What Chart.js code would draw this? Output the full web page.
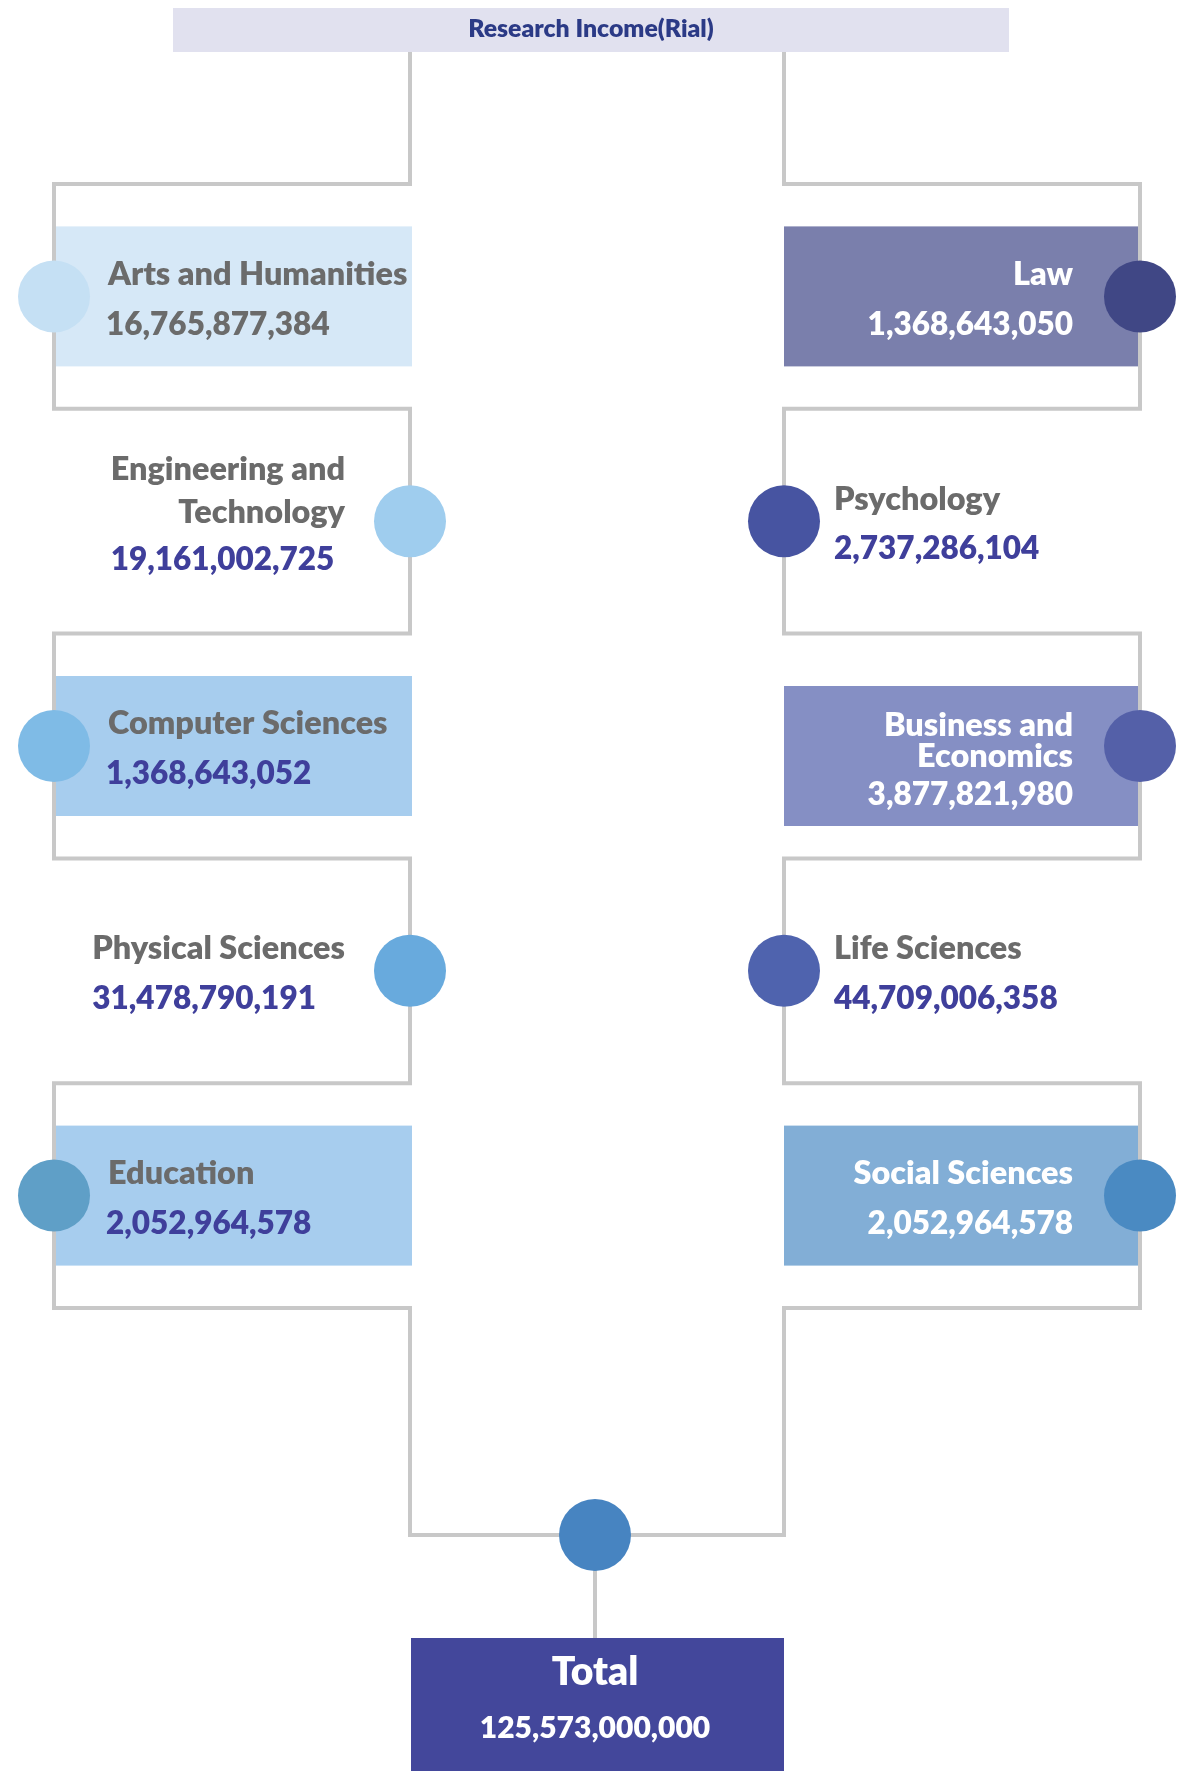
<!DOCTYPE html>
<html>
<head>
<meta charset="utf-8">
<script src="https://cdn.jsdelivr.net/npm/chart.js@4"></script>
<style>
html,body{margin:0;padding:0;background:#fff;}
canvas{display:block;}
</style>
</head>
<body>
<canvas id="myChart" width="1177" height="1771"></canvas>
<script>
// data
titleText = "Research Income(Rial)";
totalLabel = "Total";
totalValue = 125573000000;

leftNames = [["Arts and Humanities"], ["Engineering and", "Technology"], ["Computer Sciences"], ["Physical Sciences"], ["Education"]];
leftValues = [16765877384, 19161002725, 1368643052, 31478790191, 2052964578];

rightNames = [["Law"], ["Psychology"], ["Business and", "Economics"], ["Life Sciences"], ["Social Sciences"]];
rightValues = [1368643050, 2737286104, 3877821980, 44709006358, 2052964578];

// styles
var GRAY = "#6b6b6b", NAVY = "#3f3f9b", WHITE = "#ffffff";
var leftCircle = ["#c5e0f4", "#9fcdee", "#7fbbe6", "#68aadd", "#5f9fc7"];
var leftBox = ["#d6e8f7", null, "#a7cdee", null, "#a7cdee"];
var leftNameCol = [GRAY, GRAY, GRAY, GRAY, GRAY];
var leftValCol = [GRAY, NAVY, NAVY, NAVY, NAVY];
var rightCircle = ["#404785", "#4754a1", "#5460a8", "#4f63ae", "#4a8ac2"];
var rightBox = ["#7a7fac", null, "#858fc4", null, "#82aed6"];
var rightNameCol = [WHITE, GRAY, WHITE, GRAY, WHITE];
var rightValCol = [WHITE, NAVY, WHITE, NAVY, WHITE];
var LINE = "#c8c8c8";
var FONT = "Lato, 'Open Sans', sans-serif";
var WEIGHT = "800";

// layout
var W = 1177, H = 1771;
var L_OUT = 54, L_IN = 410, R_IN = 784, R_OUT = 1140, MID = 595;
var TOP = 52, ROW0 = 184, ROW_H = 224.8, TOTAL_Y = 1535, TOTAL_BOX = 1638;
var R = 36;

var bounds = [];
for (var k = 0; k <= 5; k++) bounds.push(ROW0 + k * ROW_H);
function rowC(i){ return bounds[i] + ROW_H / 2; }

function bracket(inner, outer){
    var pts = [{x: inner, y: TOP}];
    var x = inner;
    for (var i = 0; i < bounds.length; i++){
        pts.push({x: x, y: bounds[i]});
        x = (x === inner) ? outer : inner;
        pts.push({x: x, y: bounds[i]});
    }
    pts.push({x: inner, y: TOTAL_Y});
    pts.push({x: MID, y: TOTAL_Y});
    return pts;
}

var nodePts = [], nodeCols = [];
leftValues.forEach(function(v, i){ nodePts.push({x: i % 2 ? L_IN : L_OUT, y: rowC(i)}); nodeCols.push(leftCircle[i]); });
rightValues.forEach(function(v, i){ nodePts.push({x: i % 2 ? R_IN : R_OUT, y: rowC(i)}); nodeCols.push(rightCircle[i]); });
nodePts.push({x: MID, y: TOTAL_Y}); nodeCols.push("#4784c1");

function fmt(v){ return v.toLocaleString("en-US"); }
// boxes holding two-line names sit a little lower
function boxShift(names){ return names.length > 1 ? 10 : 0; }

var drawPlugin = {
    id: "infographic",
    beforeDatasetsDraw: function(chart){
        var ctx = chart.ctx, sx = chart.scales.x, sy = chart.scales.y;
        function rect(x0, y0, x1, y1, col){
            var a = sx.getPixelForValue(x0), b = sy.getPixelForValue(y0);
            ctx.fillStyle = col;
            ctx.fillRect(a, b, sx.getPixelForValue(x1) - a, sy.getPixelForValue(y1) - b);
        }
        ctx.save();
        rect(173, 8, 1009, TOP, "#e1e1ef");
        for (var i = 0; i < 5; i++){
            var c = rowC(i);
            if (leftBox[i]){ var cl = c + boxShift(leftNames[i]); rect(L_OUT + 2, cl - 70, L_IN + 2, cl + 70, leftBox[i]); }
            if (rightBox[i]){ var cr = c + boxShift(rightNames[i]); rect(R_IN, cr - 70, R_OUT - 2, cr + 70, rightBox[i]); }
        }
        rect(L_IN + 1, TOTAL_BOX, R_IN, H, "#43479b");
        ctx.restore();
    },
    afterDatasetsDraw: function(chart){
        var ctx = chart.ctx, sx = chart.scales.x, sy = chart.scales.y;
        function txt(s, x, y, align, col, size){
            ctx.font = WEIGHT + " " + size + "px " + FONT;
            ctx.textAlign = align;
            ctx.fillStyle = col;
            ctx.fillText(s, sx.getPixelForValue(x), sy.getPixelForValue(y));
        }
        ctx.save();
        ctx.textBaseline = "middle";
        txt(titleText, 591, 29, "center", "#2b3a86", 24.8);

        var NAME_SZ = 32.4, VAL_SZ = 31.5;
        function block(names, value, i, side, nameCol, valCol){
            var boxed = (i % 2 === 0), n = names.length;
            var c = rowC(i) + 4 + (boxed ? boxShift(names) : 0);
            var valY = c + 24 + (n - 1) * 11;
            var lh = boxed ? 31 : 43;
            var lastY = valY - (n > 1 ? (boxed ? 38 : 48) : 50);
            var ys = names.map(function(_, j){ return lastY - (n - 1 - j) * lh; });
            if (side === "L"){
                if (boxed){
                    names.forEach(function(s, j){ txt(s, 108, ys[j], "left", nameCol, NAME_SZ); });
                    txt(fmt(value), 106, valY, "left", valCol, VAL_SZ);
                } else {
                    ctx.font = WEIGHT + " " + NAME_SZ + "px " + FONT;
                    var wmax = 0;
                    names.forEach(function(s, j){ wmax = Math.max(wmax, ctx.measureText(s).width); txt(s, 345, ys[j], "right", nameCol, NAME_SZ); });
                    txt(fmt(value), 345 - wmax, valY, "left", valCol, VAL_SZ);
                }
            } else {
                if (boxed){
                    names.forEach(function(s, j){ txt(s, 1073, ys[j], "right", nameCol, NAME_SZ); });
                    txt(fmt(value), 1073, valY, "right", valCol, VAL_SZ);
                } else {
                    names.forEach(function(s, j){ txt(s, 834, ys[j], "left", nameCol, NAME_SZ); });
                    txt(fmt(value), 834, valY, "left", valCol, VAL_SZ);
                }
            }
        }
        for (var i = 0; i < 5; i++){
            block(leftNames[i], leftValues[i], i, "L", leftNameCol[i], leftValCol[i]);
            block(rightNames[i], rightValues[i], i, "R", rightNameCol[i], rightValCol[i]);
        }
        txt(totalLabel, MID, 1672, "center", WHITE, 39);
        txt(fmt(totalValue), MID, 1728, "center", WHITE, 30);
        ctx.restore();
    }
};

var lineStyle = {showLine: true, borderColor: LINE, borderWidth: 4, pointRadius: 0, tension: 0, borderJoinStyle: "miter", borderCapStyle: "butt", order: 3, clip: false};

new Chart("myChart", {
    type: "scatter",
    data: {
        datasets: [
            Object.assign({data: bracket(L_IN, L_OUT)}, lineStyle),
            Object.assign({data: bracket(R_IN, R_OUT)}, lineStyle),
            Object.assign({data: [{x: MID, y: TOTAL_Y}, {x: MID, y: TOTAL_BOX}]}, lineStyle),
            {
                data: nodePts,
                pointRadius: R,
                pointHoverRadius: R,
                pointBackgroundColor: nodeCols,
                pointBorderWidth: 0,
                borderWidth: 0,
                clip: false,
                order: 1
            }
        ]
    },
    options: {
        responsive: false,
        animation: false,
        devicePixelRatio: 1,
        layout: {padding: 0, autoPadding: false},
        plugins: {legend: {display: false}, tooltip: {enabled: false}},
        scales: {
            x: {type: "linear", min: 0, max: W, display: false},
            y: {type: "linear", min: 0, max: H, reverse: true, display: false}
        }
    },
    plugins: [drawPlugin]
});
</script>
</body>
</html>
